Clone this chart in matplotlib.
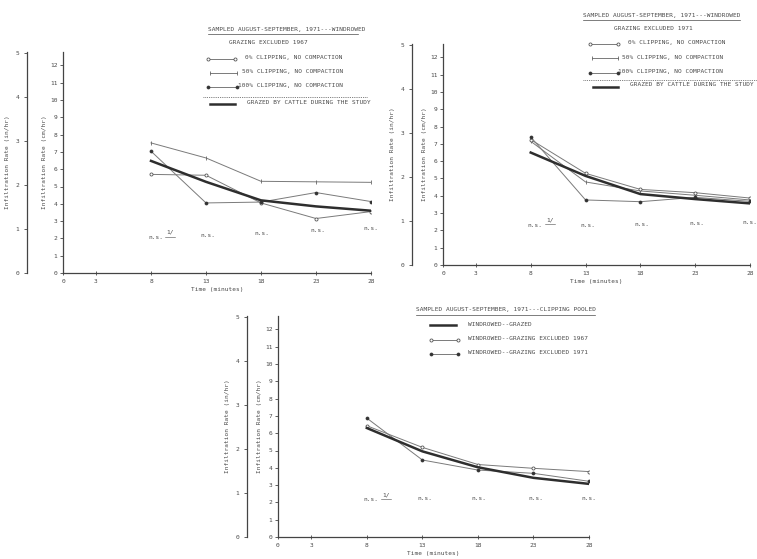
import matplotlib
matplotlib.use("Agg")
import matplotlib.pyplot as plt
from matplotlib.lines import Line2D

# ---------------- data ----------------
minutes = [8, 13, 18, 23, 28]
xticks = [0, 3, 8, 13, 18, 23, 28]
cm_ticks = list(range(0, 13))
in_ticks = [0, 1, 2, 3, 4, 5]

p1_clip0 = [5.70, 5.65, 4.05, 3.15, 3.55]
p1_clip50 = [7.52, 6.65, 5.30, 5.27, 5.24]
p1_clip100 = [7.04, 4.05, 4.10, 4.65, 4.13]
p1_grazed = [6.48, 5.27, 4.20, 3.85, 3.60]

p2_clip0 = [7.25, 5.30, 4.37, 4.18, 3.87]
p2_clip50 = [7.15, 4.80, 4.28, 4.03, 3.76]
p2_clip100 = [7.40, 3.76, 3.66, 3.91, 3.68]
p2_grazed = [6.50, 5.15, 4.10, 3.81, 3.56]

p3_grazed = [6.30, 4.95, 4.03, 3.42, 3.07]
p3_excl1967 = [6.43, 5.18, 4.19, 3.97, 3.78]
p3_excl1971 = [6.87, 4.45, 3.87, 3.68, 3.22]

ns_x = [8.4, 13.2, 18.1, 23.2, 28.0]
p1_ns_y = [2.05, 2.15, 2.3, 2.45, 2.6]
p2_ns_y = [2.3, 2.3, 2.35, 2.4, 2.45]
p3_ns_y = [2.15, 2.2, 2.2, 2.2, 2.2]

W, H = 757, 559
FONT = "DejaVu Sans Mono"
TXT = "#4a4a4a"
LN = "#7a7a7a"
THICK = "#2e2e2e"
FS = 4.4

plt.rcParams["font.family"] = FONT
fig = plt.figure(figsize=(W / 100, H / 100), dpi=100)
fig.patch.set_facecolor("white")


def fx(x):
    return x / W


def fy(y):
    return 1 - y / H


def make_panel(x0, x28, y0, in_offset_px):
    ppu = 17.3
    top = 12.8
    ax = fig.add_axes([fx(x0), fy(y0), (x28 - x0) / W, top * ppu / H])
    ax.set_xlim(0, 28)
    ax.set_ylim(0, top)
    for s in ["top", "right"]:
        ax.spines[s].set_visible(False)
    for s in ["left", "bottom"]:
        ax.spines[s].set_color("#444444")
        ax.spines[s].set_linewidth(0.9)
    ax.set_xticks(xticks)
    ax.set_yticks(cm_ticks)
    ax.tick_params(axis="both", labelsize=4.5, colors="#444444", length=2.5,
                   width=0.6, pad=1.5, labelcolor=TXT)
    ax.tick_params(axis="x", direction="inout", length=3, pad=3)
    ax.set_xlabel("Time (minutes)", fontsize=FS, color=TXT, labelpad=2)
    ax.set_ylabel("Infiltration Rate (cm/hr)", fontsize=FS, color=TXT, labelpad=2)
    sec = ax.secondary_yaxis(-in_offset_px / (x28 - x0),
                             functions=(lambda c: c / 2.54, lambda i: i * 2.54))
    sec.set_yticks(in_ticks)
    sec.spines["left"].set_color("#444444")
    sec.spines["left"].set_linewidth(0.9)
    sec.tick_params(labelsize=4.5, colors="#444444", length=2.5, width=0.6,
                    pad=3, labelcolor=TXT)
    sec.set_ylabel("Infiltration Rate (in/hr)", fontsize=FS, color=TXT, labelpad=4)
    ax.patch.set_alpha(0)
    return ax


def ns_labels(ax, ys):
    for i, (x, y) in enumerate(zip(ns_x, ys)):
        ax.text(x, y, "n.s.", fontsize=FS, color=TXT, ha="center", va="center")
        if i == 0:
            ax.text(x + 1.35, y + 0.3, "1/", fontsize=FS, color=TXT,
                    ha="center", va="center")
            ax.plot([x + 0.9, x + 1.8], [y + 0.05, y + 0.05], color=TXT, lw=0.4)


def ftext(x, y, s, ha="left"):
    fig.text(fx(x), fy(y), s, fontsize=FS, color=TXT, ha=ha, va="center")


def fline(x1, x2, y, **kw):
    fig.add_artist(Line2D([fx(x1), fx(x2)], [fy(y), fy(y)], **kw))


open_kw = dict(color=LN, lw=0.7, marker="o", ms=2.2, mfc="white", mec="#555555", mew=0.6)
tick_kw = dict(color=LN, lw=0.7, marker="|", ms=3, mec="#666666", mew=0.6)
fill_kw = dict(color=LN, lw=0.7, marker="o", ms=2.2, mfc="#333333", mec="#333333", mew=0.5)
thick_kw = dict(color=THICK, lw=1.8)

# ---------------- Panel 1 ----------------
ax1 = make_panel(63, 371, 273, 36)
ax1.plot(minutes, p1_clip50, **tick_kw)
ax1.plot(minutes, p1_clip0, **open_kw)
ax1.plot(minutes, p1_clip100, **fill_kw)
ax1.plot(minutes, p1_grazed, **thick_kw)
ns_labels(ax1, p1_ns_y)

ftext(208, 29, "SAMPLED AUGUST-SEPTEMBER, 1971---WINDROWED")
fline(208, 358, 33.5, color=TXT, lw=0.5)
ftext(268, 43, "GRAZING EXCLUDED 1967", ha="center")
fline(208, 235, 59, **open_kw)
ftext(245, 57.5, "0% CLIPPING, NO COMPACTION")
fline(210, 237, 73, **tick_kw)
ftext(242, 71.5, "50% CLIPPING, NO COMPACTION")
fline(208, 237, 87, **fill_kw)
ftext(238, 85.5, "100% CLIPPING, NO COMPACTION")
fline(203, 368, 96.5, color="#555555", lw=0.6, ls=(0, (1, 1.2)))
fline(210, 235, 104, **thick_kw)
ftext(247, 102, "GRAZED BY CATTLE DURING THE STUDY")

# ---------------- Panel 2 ----------------
ax2 = make_panel(443, 750, 265, 31)
ax2.plot(minutes, p2_clip50, **tick_kw)
ax2.plot(minutes, p2_clip0, **open_kw)
ax2.plot(minutes, p2_clip100, **fill_kw)
ax2.plot(minutes, p2_grazed, **thick_kw)
ns_labels(ax2, p2_ns_y)

ftext(583, 15, "SAMPLED AUGUST-SEPTEMBER, 1971---WINDROWED")
fline(583, 740, 19.5, color=TXT, lw=0.5)
ftext(653, 29, "GRAZING EXCLUDED 1971", ha="center")
fline(590, 618, 44, **open_kw)
ftext(628, 42.5, "0% CLIPPING, NO COMPACTION")
fline(592, 618, 58, **tick_kw)
ftext(622, 57, "50% CLIPPING, NO COMPACTION")
fline(590, 618, 72.5, **fill_kw)
ftext(618, 71, "100% CLIPPING, NO COMPACTION")
fline(583, 757, 80, color="#555555", lw=0.6, ls=(0, (1, 1.2)))
fline(593, 618, 86.5, **thick_kw)
ftext(630, 85, "GRAZED BY CATTLE DURING THE STUDY")

# ---------------- Panel 3 ----------------
ax3 = make_panel(278, 589, 537, 31)
ax3.plot(minutes, p3_excl1967, **open_kw)
ax3.plot(minutes, p3_excl1971, **fill_kw)
ax3.plot(minutes, p3_grazed, **thick_kw)
ns_labels(ax3, p3_ns_y)

ftext(416, 310, "SAMPLED AUGUST-SEPTEMBER, 1971---CLIPPING POOLED")
fline(416, 595, 314.5, color=TXT, lw=0.5)
fline(430, 456, 325, **thick_kw)
ftext(468, 324, "WINDROWED--GRAZED")
fline(431, 458, 340, **open_kw)
ftext(468, 339, "WINDROWED--GRAZING EXCLUDED 1967")
fline(431, 458, 354, **fill_kw)
ftext(468, 353, "WINDROWED--GRAZING EXCLUDED 1971")

fig.savefig("out.png", dpi=100, facecolor="white")
